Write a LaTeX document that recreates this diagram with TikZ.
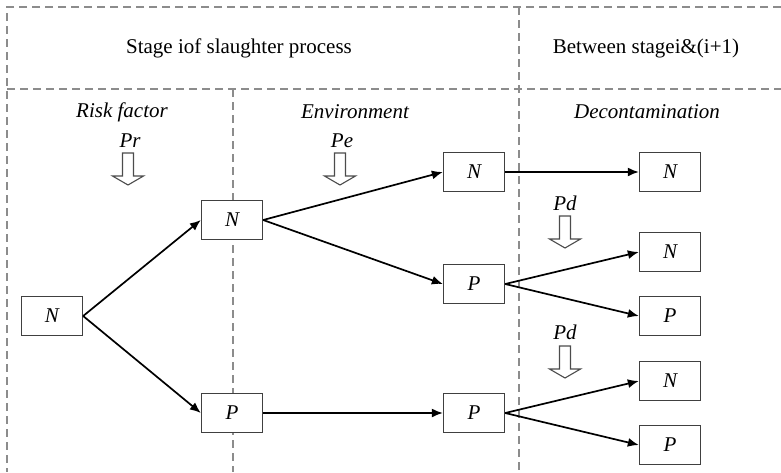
\documentclass[tikz,border=0pt]{standalone}
\usepackage{fontspec}
\setmainfont{Liberation Serif}
\usetikzlibrary{arrows.meta}
\begin{document}
\begin{tikzpicture}[x=1pt,y=-1pt,
  frame/.style={draw=black!45, dash pattern=on 8pt off 5pt, line width=1.2pt},
  state/.style={draw=black!75, fill=white, line width=1.3pt, minimum width=61pt, minimum height=39pt, inner sep=0pt, font=\fontsize{21}{24}\selectfont\itshape},
  link/.style={line width=1.7pt, -{Latex[length=11pt,width=9pt]}},
  lbl/.style={font=\fontsize{21}{24}\selectfont, inner sep=0pt},
  ilbl/.style={font=\fontsize{21}{24}\selectfont\itshape, inner sep=0pt},
  hollow/.style={draw=black!70, line width=1.1pt, fill=white},
  downarrow/.pic={\draw[hollow] (-5.5,0) -- (5.5,0) -- (5.5,23) -- (15.5,23) -- (0,32) -- (-15.5,23) -- (-5.5,23) -- cycle;}
]
\useasboundingbox (0,0) rectangle (781,472);

% frame
\draw[frame] (781,7) -- (7,7) -- (7,472);
\draw[frame] (7,89) -- (781,89);
\draw[frame] (233,89) -- (233,472);
\draw[frame] (519,7) -- (519,472);

% headers
\node[lbl] (h1) at (239,48) {Stage iof slaughter process};
\node[lbl] (h2) at (646,48) {Between stagei\&(i+1)};
\node[ilbl] (s1) at (122,112) {Risk factor};
\node[ilbl] (s2) at (355,112) {Environment};
\node[ilbl] (s3) at (647,112) {Decontamination};
\node[ilbl] (pr) at (130,141) {Pr};
\node[ilbl] (pe) at (342,141) {Pe};
\node[ilbl] (pd1) at (565,203) {Pd};
\node[ilbl] (pd2) at (565,332) {Pd};

\pic at (128,153) {downarrow};
\pic at (340,153) {downarrow};
\pic at (565,216) {downarrow};
\pic at (565,346) {downarrow};

% states
\node[state] (root) at (52,316) {N};
\node[state] (n1) at (232,220) {N};
\node[state] (p1) at (232,413) {P};
\node[state] (n2) at (474,172) {N};
\node[state] (p2) at (474,284) {P};
\node[state] (p3) at (474,413) {P};
\node[state] (r1) at (670,172) {N};
\node[state] (r2) at (670,252) {N};
\node[state] (r3) at (670,316) {P};
\node[state] (r4) at (670,381) {N};
\node[state] (r5) at (670,445) {P};

% links
\draw[link] (root.east) -- (n1.west);
\draw[link] (root.east) -- (p1.west);
\draw[link] (n1.east) -- (n2.west);
\draw[link] (n1.east) -- (p2.west);
\draw[link] (p1.east) -- (p3.west);
\draw[link] (n2.east) -- (r1.west);
\draw[link] (p2.east) -- (r2.west);
\draw[link] (p2.east) -- (r3.west);
\draw[link] (p3.east) -- (r4.west);
\draw[link] (p3.east) -- (r5.west);
\end{tikzpicture}
\end{document}
